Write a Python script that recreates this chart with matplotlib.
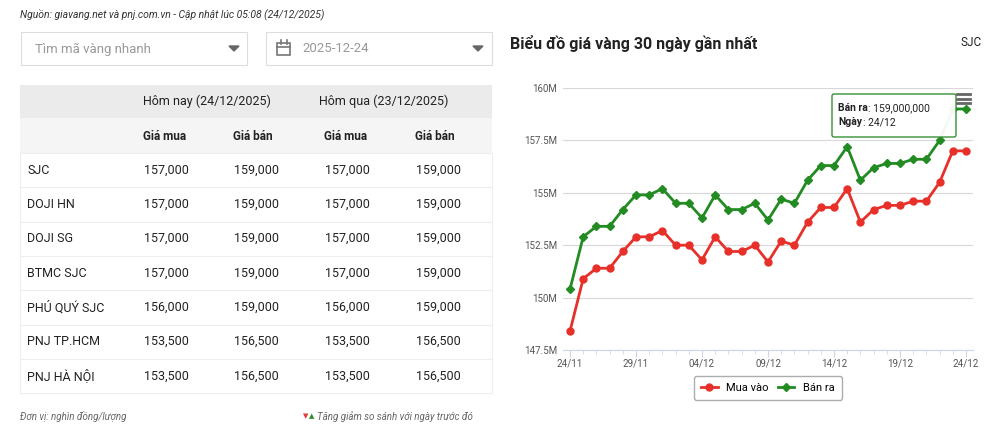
import matplotlib
matplotlib.use("Agg")
import matplotlib.pyplot as plt
from matplotlib.patches import Rectangle, FancyBboxPatch
import numpy as np

plt.rcParams['font.family'] = ['Roboto', 'DejaVu Sans']

dates = ["24/11","25/11","26/11","27/11","28/11","29/11","30/11","01/12","02/12","03/12",
         "04/12","05/12","06/12","07/12","08/12","09/12","10/12","11/12","12/12","13/12",
         "14/12","15/12","16/12","17/12","18/12","19/12","20/12","21/12","22/12","23/12","24/12"]
mua_vao = [148.4,150.9,151.4,151.4,152.2,152.9,152.9,153.2,152.5,152.5,151.8,152.9,152.2,152.2,152.5,
           151.7,152.7,152.5,153.6,154.3,154.3,155.2,153.6,154.2,154.4,154.4,154.6,154.6,155.5,157.0,157.0]
ban_ra = [150.4,152.9,153.4,153.4,154.2,154.9,154.9,155.2,154.5,154.5,153.8,154.9,154.2,154.2,154.5,
          153.7,154.7,154.5,155.6,156.3,156.3,157.2,155.6,156.2,156.4,156.4,156.6,156.6,157.5,159.0,159.0]
yticks = [147.5,150,152.5,155,157.5,160]
ytick_labels = ["147.5M","150M","152.5M","155M","157.5M","160M"]

names = ["SJC","DOJI HN","DOJI SG","BTMC SJC","PHÚ QUÝ SJC","PNJ TP.HCM","PNJ HÀ NỘI"]
today_buy = ["157,000","157,000","157,000","157,000","156,000","153,500","153,500"]
today_sell = ["159,000","159,000","159,000","159,000","159,000","156,500","156,500"]
yest_buy = ["157,000","157,000","157,000","157,000","156,000","153,500","153,500"]
yest_sell = ["159,000","159,000","159,000","159,000","159,000","156,500","156,500"]

W, H = 1000, 434
fig = plt.figure(figsize=(10, 4.34), dpi=100)
bg = fig.add_axes([0, 0, 1, 1])
bg.set_xlim(0, W); bg.set_ylim(H, 0); bg.axis('off')

dark = "#222222"
bg.text(20, 15, "Nguồn: giavang.net và pnj.com.vn - Cập nhật lúc 05:08 (24/12/2025)",
        fontsize=7.5, style='italic', color="#333333", va='center')
for x0, x1 in [(21, 247), (266, 492)]:
    bg.add_patch(Rectangle((x0, 32), x1 - x0, 33, fc='white', ec='#dddddd', lw=0.8))
bg.text(35, 49, "Tìm mã vàng nhanh", fontsize=9.5, color="#999999", va='center')
bg.text(302, 49, "2025-12-24", fontsize=9.5, color="#999999", va='center')
bg.add_patch(Rectangle((277, 43), 13, 12, fc='none', ec='#777777', lw=1.2))
bg.plot([277, 290], [46.5, 46.5], color='#777777', lw=1.2)
bg.plot([280.5, 280.5], [40, 44], color='#777777', lw=1.2)
bg.plot([286.5, 286.5], [40, 44], color='#777777', lw=1.2)
for cx in (234, 478):
    bg.fill([cx - 5, cx + 5, cx], [46, 46, 51], color='#666666')

bg.add_patch(Rectangle((20, 85), 472, 33, fc='#ebebeb', ec='none'))
bg.add_patch(Rectangle((20, 118), 472, 35, fc='#f5f5f5', ec='none'))
bg.add_patch(Rectangle((20, 153), 472, 240, fc='white', ec='#eeeeee', lw=0.8))
bg.text(143, 101, "Hôm nay (24/12/2025)", fontsize=9, color=dark, va='center')
bg.text(319, 101, "Hôm qua (23/12/2025)", fontsize=9, color=dark, va='center')
for x, t in [(143, "Giá mua"), (233, "Giá bán"), (324, "Giá mua"), (415, "Giá bán")]:
    bg.text(x, 136, t, fontsize=8.5, color=dark, va='center', weight='bold')
row_h = 34.3
for i, n in enumerate(names):
    yc = 153 + row_h * (i + 0.5)
    if i > 0:
        bg.plot([20, 492], [153 + row_h * i] * 2, color='#eeeeee', lw=0.8)
    bg.text(27, yc, n, fontsize=9, color=dark, va='center')
    for x, v in [(144, today_buy[i]), (234, today_sell[i]), (325, yest_buy[i]), (416, yest_sell[i])]:
        bg.text(x, yc, v, fontsize=9, color=dark, va='center')
bg.text(20, 417, "Đơn vị: nghìn đồng/lượng", fontsize=7, style='italic', color="#666666", va='center')
bg.text(303, 417, "▼", fontsize=5, color='#e53935', va='center')
bg.text(309, 417, "▲", fontsize=5, color='#2e8b2e', va='center')
bg.text(317, 417, "Tăng giảm so sánh với ngày trước đó", fontsize=7, style='italic', color="#666666", va='center')

bg.text(510, 43, "Biểu đồ giá vàng 30 ngày gần nhất", fontsize=11.5, weight='bold', color=dark, va='center')
bg.text(982, 43, "SJC", fontsize=8.5, color=dark, va='center', ha='right')

ax = fig.add_axes([0.563, 1 - 350 / H, 0.41, (350 - 88) / H])
x = np.arange(len(dates))
red, green = "#e8302a", "#228b22"
ax.plot(x, mua_vao, color=red, lw=2, marker='o', ms=5, label="Mua vào", zorder=3)
ax.plot(x, ban_ra, color=green, lw=2, marker='D', ms=4, label="Bán ra", zorder=3)
ax.set_xlim(-0.53, 30.53)
ax.set_ylim(147.5, 160)
ax.set_yticks(yticks)
ax.set_yticklabels(ytick_labels, fontsize=7, color='#555555')
ax.set_xticks(x[::5])
ax.set_xticklabels(dates[::5], fontsize=7, color='#555555')
ax.set_xticks(x, minor=True)
ax.grid(axis='y', color='#d8d8d8', lw=0.8)
ax.set_axisbelow(True)
for s in ['top', 'right', 'left']:
    ax.spines[s].set_visible(False)
ax.spines['bottom'].set_color('#ccd6eb')
ax.tick_params(axis='y', length=0, pad=4)
ax.tick_params(axis='x', which='both', color='#ccd6eb', length=5, pad=1)
ax.tick_params(axis='x', which='minor', length=3)
ax.legend(loc='center', bbox_to_anchor=(0.5, -0.145), ncol=2, fontsize=8,
          frameon=True, edgecolor='#999999', fancybox=True, handlelength=1.5,
          columnspacing=0.8, borderpad=0.6)

ov = fig.add_axes([0, 0, 1, 1])
ov.set_xlim(0, W); ov.set_ylim(H, 0); ov.axis('off'); ov.patch.set_alpha(0)
ov.add_patch(FancyBboxPatch((832, 94), 124, 43, boxstyle="round,pad=0,rounding_size=2",
                            fc='white', ec='#2e8b2e', lw=1, alpha=0.95))
ov.text(838, 108, "Bán ra", fontsize=7.5, weight='bold', color=dark, va='center')
ov.text(868, 108, ": 159,000,000", fontsize=7.5, color=dark, va='center')
ov.text(838, 122, "Ngày", fontsize=7.5, weight='bold', color=dark, va='center')
ov.text(863, 122, ": 24/12", fontsize=7.5, color=dark, va='center')
for yy in (94, 98.5, 103):
    ov.plot([957, 970], [yy, yy], color='#666666', lw=2)

fig.savefig("out.png", dpi=100)
